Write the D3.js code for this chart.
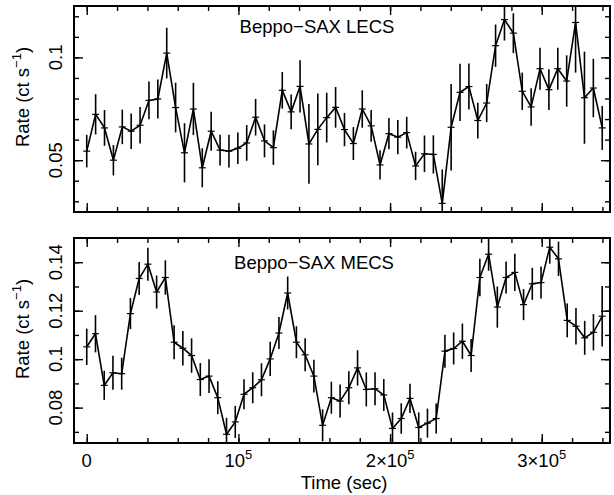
<!DOCTYPE html>
<html>
<head>
<meta charset="utf-8">
<script src="https://cdn.jsdelivr.net/npm/d3@7"></script>
<style>
body { margin: 0; background: #fff; }
text { font-family: "Liberation Sans", Arial, sans-serif; fill: #000; }
</style>
</head>
<body>
<script>
// LECS light curve (time in s, rate in ct/s)
var lecsTime = [0, 5860, 11720, 17580, 23440, 29300, 35160, 41020, 46880, 52740,
    58600, 64460, 70320, 76180, 82040, 87900, 93760, 99620, 105480, 111340,
    117200, 123060, 128920, 134780, 140640, 146500, 152360, 158220, 164080, 169940,
    175800, 181660, 187520, 193380, 199240, 205100, 210960, 216820, 222680, 228540,
    234400, 240260, 246120, 251980, 257840, 263700, 269560, 275420, 281280, 287140,
    293000, 298860, 304720, 310580, 316440, 322300, 328160, 334020, 339880];
var lecsRate = [0.0544, 0.0723, 0.0657, 0.0500, 0.0662, 0.0641, 0.0670, 0.0791, 0.0798, 0.1021,
    0.0756, 0.0536, 0.0749, 0.0463, 0.0641, 0.0549, 0.0544, 0.0558, 0.0584, 0.0709,
    0.0594, 0.0561, 0.0840, 0.0735, 0.0859, 0.0579, 0.0650, 0.0707, 0.0757, 0.0649,
    0.0581, 0.0749, 0.0667, 0.0477, 0.0629, 0.0612, 0.0634, 0.0472, 0.0531, 0.0528,
    0.0290, 0.0660, 0.0830, 0.0858, 0.0693, 0.0778, 0.1057, 0.1184, 0.1118, 0.0835,
    0.0759, 0.0945, 0.0843, 0.0945, 0.0885, 0.1170, 0.0804, 0.0851, 0.0657];
var lecsErr = [0.0079, 0.0098, 0.0087, 0.0074, 0.0084, 0.0086, 0.0089, 0.0092, 0.0095, 0.0123,
    0.0121, 0.0144, 0.0127, 0.0095, 0.0095, 0.0075, 0.0080, 0.0077, 0.0087, 0.0089,
    0.0080, 0.0084, 0.0089, 0.0085, 0.0127, 0.0194, 0.0174, 0.0121, 0.0099, 0.0081,
    0.0080, 0.0091, 0.0077, 0.0071, 0.0076, 0.0083, 0.0077, 0.0069, 0.0089, 0.0093,
    0.0165, 0.0210, 0.0139, 0.0112, 0.0087, 0.0093, 0.0103, 0.0102, 0.0097, 0.0091,
    0.0091, 0.0102, 0.0099, 0.0102, 0.0125, 0.0244, 0.0224, 0.0142, 0.0107];

// MECS light curve
var mecsTime = [0, 5760, 11520, 17280, 23040, 28800, 34560, 40320, 46080, 51840,
    57600, 63360, 69120, 74880, 80640, 86400, 92160, 97920, 103680, 109440,
    115200, 120960, 126720, 132480, 138240, 144000, 149760, 155520, 161280, 167040,
    172800, 178560, 184320, 190080, 195840, 201600, 207360, 213120, 218880, 224640,
    230400, 236160, 241920, 247680, 253440, 259200, 264960, 270720, 276480, 282240,
    288000, 293760, 299520, 305280, 311040, 316800, 322560, 328320, 334080, 339840];
var mecsRate = [0.1051, 0.1105, 0.0892, 0.0944, 0.0940, 0.1188, 0.1333, 0.1392, 0.1277, 0.1337,
    0.1070, 0.1045, 0.1015, 0.0916, 0.0930, 0.0841, 0.0690, 0.0741, 0.0855, 0.0882,
    0.0915, 0.1001, 0.1108, 0.1273, 0.1070, 0.1018, 0.0930, 0.0727, 0.0841, 0.0827,
    0.0882, 0.0964, 0.0875, 0.0878, 0.0852, 0.0714, 0.0755, 0.0838, 0.0718, 0.0736,
    0.0755, 0.1033, 0.1044, 0.1074, 0.1015, 0.1337, 0.1433, 0.1215, 0.1337, 0.1358,
    0.1225, 0.1311, 0.1316, 0.1462, 0.1414, 0.1160, 0.1136, 0.1088, 0.1111, 0.1177];
var mecsErr = [0.0075, 0.0077, 0.0060, 0.0070, 0.0066, 0.0064, 0.0068, 0.0068, 0.0068, 0.0071,
    0.0070, 0.0071, 0.0071, 0.0068, 0.0070, 0.0068, 0.0068, 0.0066, 0.0062, 0.0064,
    0.0068, 0.0071, 0.0066, 0.0068, 0.0066, 0.0068, 0.0068, 0.0066, 0.0066, 0.0068,
    0.0068, 0.0073, 0.0070, 0.0068, 0.0066, 0.0066, 0.0063, 0.0060, 0.0062, 0.0060,
    0.0062, 0.0068, 0.0066, 0.0073, 0.0068, 0.0077, 0.0068, 0.0085, 0.0066, 0.0077,
    0.0064, 0.0066, 0.0066, 0.0068, 0.0071, 0.0070, 0.0075, 0.0070, 0.0075, 0.0125];

var binHalf = 2300; // half width of the horizontal bar (s)

// ticks
var xMajor = [0, 100000, 200000, 300000];
var xLabels = [["0", ""], ["10", "5"], ["2\u00d710", "5"], ["3\u00d710", "5"]];
var xMinor = [0, 20000, 40000, 60000, 80000, 100000, 120000, 140000, 160000,
    180000, 200000, 220000, 240000, 260000, 280000, 300000, 320000, 340000];
var lecsMajor = [0.05, 0.1];
var lecsLabels = ["0.05", "0.1"];
var lecsMinor = [0.03, 0.04, 0.05, 0.06, 0.07, 0.08, 0.09, 0.1, 0.11, 0.12];
var mecsMajor = [0.08, 0.1, 0.12, 0.14];
var mecsLabels = ["0.08", "0.1", "0.12", "0.14"];
var mecsMinor = [0.07, 0.08, 0.09, 0.1, 0.11, 0.12, 0.13, 0.14];

var w = 614;
var h = 495;
var x0 = 74, x1 = 610;
var fs = 18.5;

var svg = d3.select("body")
    .append("svg")
    .attr("width", w)
    .attr("height", h);

var x = d3.scaleLinear()
    .domain([-8400, 345000])
    .range([x0, x1]);

function drawPanel(id, top, bottom, domain, time, rate, err, major, labels, minor, title, titleX, titleY, yTitleY, showX) {
    var y = d3.scaleLinear().domain(domain).range([bottom, top]);
    var g = svg.append("g");

    g.append("clipPath").attr("id", id)
        .append("rect")
        .attr("x", x0).attr("y", top)
        .attr("width", x1 - x0).attr("height", bottom - top);

    var pts = time.map(function (t, i) { return { t: t, r: rate[i], e: err[i] }; });
    var data = g.append("g").attr("clip-path", "url(#" + id + ")");

    // error bars
    data.selectAll("line.ey")
        .data(pts)
        .enter()
        .append("line")
        .attr("x1", function (d) { return x(d.t); })
        .attr("x2", function (d) { return x(d.t); })
        .attr("y1", function (d) { return y(d.r - d.e); })
        .attr("y2", function (d) { return y(d.r + d.e); })
        .attr("stroke", "#000")
        .attr("stroke-width", 1.6);

    data.selectAll("line.ex")
        .data(pts)
        .enter()
        .append("line")
        .attr("x1", function (d) { return x(d.t - binHalf); })
        .attr("x2", function (d) { return x(d.t + binHalf); })
        .attr("y1", function (d) { return y(d.r); })
        .attr("y2", function (d) { return y(d.r); })
        .attr("stroke", "#000")
        .attr("stroke-width", 1.2);

    var line = d3.line()
        .x(function (d) { return x(d.t); })
        .y(function (d) { return y(d.r); });

    data.append("path")
        .datum(pts)
        .attr("d", line)
        .attr("fill", "none")
        .attr("stroke", "#000")
        .attr("stroke-width", 1.6)
        .attr("stroke-linejoin", "miter");

    // ticks, pointing inward on all four sides
    function ticks(axis, tx, ty) {
        var a = g.append("g")
            .attr("transform", "translate(" + tx + "," + ty + ")")
            .call(axis);
        a.select(".domain").remove();
        a.selectAll("line").attr("stroke-width", 1.4);
        a.selectAll("text").remove();
    }
    ticks(d3.axisBottom(x).tickValues(xMinor).tickSize(-5), 0, bottom);
    ticks(d3.axisTop(x).tickValues(xMinor).tickSize(-5), 0, top);
    ticks(d3.axisBottom(x).tickValues(xMajor).tickSize(-9), 0, bottom);
    ticks(d3.axisTop(x).tickValues(xMajor).tickSize(-9), 0, top);
    ticks(d3.axisLeft(y).tickValues(minor).tickSize(-5), x0, 0);
    ticks(d3.axisRight(y).tickValues(minor).tickSize(-5), x1, 0);
    ticks(d3.axisLeft(y).tickValues(major).tickSize(-9), x0, 0);
    ticks(d3.axisRight(y).tickValues(major).tickSize(-9), x1, 0);

    // frame
    g.append("rect")
        .attr("x", x0).attr("y", top)
        .attr("width", x1 - x0).attr("height", bottom - top)
        .attr("fill", "none")
        .attr("stroke", "#000")
        .attr("stroke-width", 2);

    // y tick labels, rotated
    g.selectAll("text.yl")
        .data(major)
        .enter()
        .append("text")
        .attr("transform", function (d) { return "translate(62," + y(d) + ") rotate(-90)"; })
        .attr("text-anchor", "middle")
        .attr("font-size", fs)
        .text(function (d, i) { return labels[i]; });

    // y title
    var yt = g.append("text")
        .attr("transform", "translate(28.5," + yTitleY + ") rotate(-90)")
        .attr("text-anchor", "middle")
        .attr("font-size", fs);
    yt.append("tspan").text("Rate (ct s");
    yt.append("tspan").attr("dy", -8).attr("font-size", 13).text("\u22121");
    yt.append("tspan").attr("dy", 8).text(")");

    // panel title
    g.append("text")
        .attr("x", titleX).attr("y", titleY)
        .attr("text-anchor", "middle")
        .attr("font-size", fs)
        .text(title);

    if (showX) {
        var xl = g.selectAll("text.xl")
            .data(xMajor)
            .enter()
            .append("text")
            .attr("x", function (d) { return x(d); })
            .attr("y", 466.5)
            .attr("text-anchor", "middle")
            .attr("font-size", fs);
        xl.append("tspan").text(function (d, i) { return xLabels[i][0]; });
        xl.append("tspan")
            .attr("dy", -8)
            .attr("font-size", 13)
            .text(function (d, i) { return xLabels[i][1]; });

        g.append("text")
            .attr("x", 344).attr("y", 489)
            .attr("text-anchor", "middle")
            .attr("font-size", fs)
            .text("Time (sec)");
    }
}

drawPanel("clipL", 6, 212, [0.0248, 0.125], lecsTime, lecsRate, lecsErr,
    lecsMajor, lecsLabels, lecsMinor, "Beppo\u2212SAX LECS", 317, 33.3, 97, false);
drawPanel("clipM", 238, 443, [0.0654, 0.15], mecsTime, mecsRate, mecsErr,
    mecsMajor, mecsLabels, mecsMinor, "Beppo\u2212SAX MECS", 314, 269.3, 329, true);
</script>
</body>
</html>
